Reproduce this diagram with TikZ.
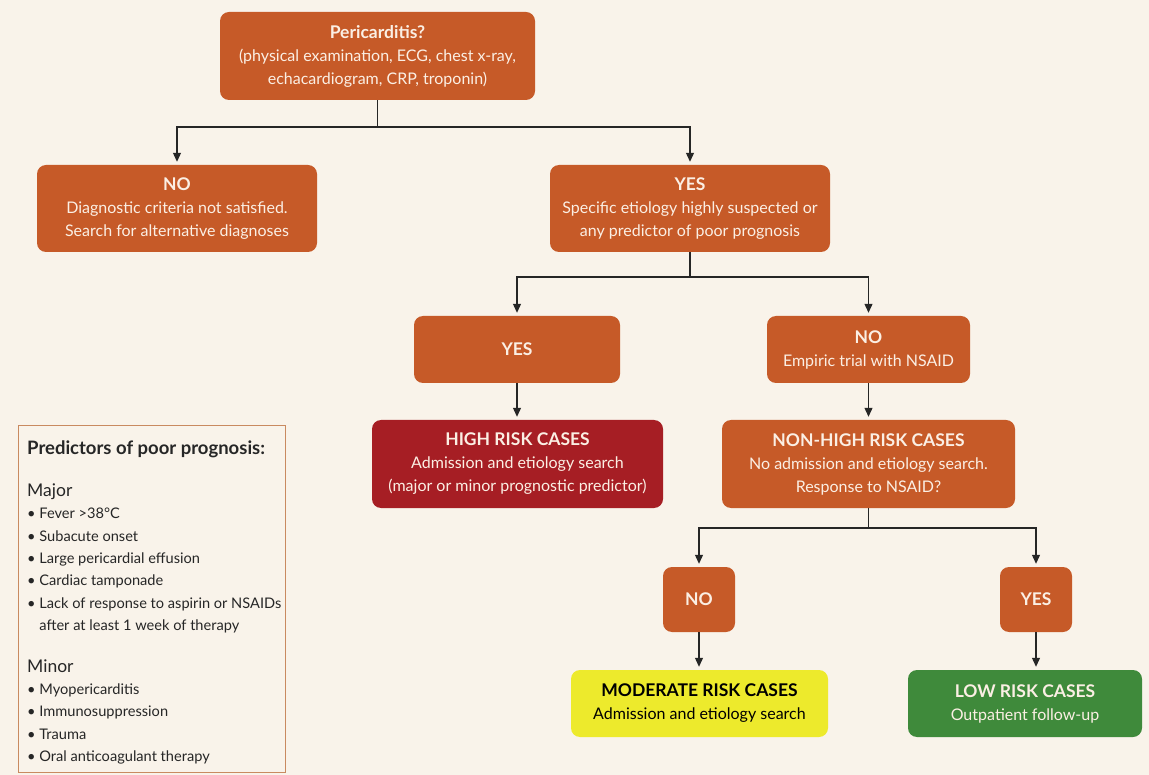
\documentclass[tikz,border=0pt]{standalone}
\usepackage{fontspec}
\setmainfont{Lato}
\usetikzlibrary{arrows.meta}
\definecolor{bg}{HTML}{F9F3EA}
\definecolor{org}{HTML}{C65A28}
\definecolor{hred}{HTML}{A61E24}
\definecolor{ylw}{HTML}{EDEA2C}
\definecolor{grn}{HTML}{3F8A3B}
\definecolor{txt}{HTML}{FBEFE4}
\definecolor{frame}{HTML}{C98A60}
\newcommand{\hd}[1]{{\fontsize{17.5}{23}\selectfont\textbf{#1}}}
\begin{document}
\begin{tikzpicture}[x=1pt,y=-1pt,
 box/.style={rounded corners=9pt, fill=org, text=txt, align=center, inner sep=0pt, font=\fontsize{16}{23}\selectfont},
 arr/.style={-{Triangle[width=8pt,length=9pt]}, line width=1.1pt, draw=black!85, shorten >=3pt},
 ln/.style={line width=1.1pt, draw=black!85}]
\fill[bg] (0,0) rectangle (1149,775);
\useasboundingbox (0,0) rectangle (1149,775);

\node[box, minimum width=315pt, minimum height=88pt] (top) at (377.5,56) {\hd{Pericarditis?}\\(physical examination, ECG, chest x-ray,\\echacardiogram, CRP, troponin)};
\node[box, minimum width=280pt, minimum height=87pt] (no1) at (177,208.5) {\hd{NO}\\Diagnostic criteria not satisfied.\\Search for alternative diagnoses};
\node[box, minimum width=280pt, minimum height=87pt] (yes1) at (690,208.5) {\hd{YES}\\Specific etiology highly suspected or\\any predictor of poor prognosis};
\node[box, minimum width=206pt, minimum height=67pt] (yes2) at (517,349.5) {\hd{YES}};
\node[box, minimum width=203pt, minimum height=67pt] (no2) at (868.5,349.5) {\hd{NO}\\Empiric trial with NSAID};
\node[box, fill=hred, minimum width=291pt, minimum height=88pt] (high) at (517.5,464) {\hd{HIGH RISK CASES}\\Admission and etiology search\\(major or minor prognostic predictor)};
\node[box, minimum width=293pt, minimum height=88pt] (nonhigh) at (868.5,464) {\hd{NON-HIGH RISK CASES}\\No admission and etiology search.\\Response to NSAID?};
\node[box, minimum width=72pt, minimum height=65pt] (no3) at (699,599.5) {\hd{NO}};
\node[box, minimum width=72pt, minimum height=65pt] (yes3) at (1036,599.5) {\hd{YES}};
\node[box, fill=ylw, text=black, minimum width=257pt, minimum height=67pt] (mod) at (699.5,703.5) {\hd{MODERATE RISK CASES}\\Admission and etiology search};
\node[box, fill=grn, minimum width=234pt, minimum height=67pt] (low) at (1025,703.5) {\hd{LOW RISK CASES}\\Outpatient follow-up};

\coordinate (j1) at (377.5,127);
\draw[ln] (top.south) -- (j1);
\draw[arr] (j1) -| (no1.north);
\draw[arr] (j1) -| (yes1.north);
\coordinate (j2) at (690,277);
\draw[ln] (yes1.south) -- (j2);
\draw[arr] (j2) -| (yes2.north);
\draw[arr] (j2) -| (no2.north);
\draw[arr] (yes2.south) -- (yes2.south |- high.north);
\draw[arr] (no2.south) -- (no2.south |- nonhigh.north);
\coordinate (j3) at (868.5,528);
\draw[ln] (nonhigh.south) -- (j3);
\draw[arr] (j3) -| (no3.north);
\draw[arr] (j3) -| (yes3.north);
\draw[arr] (no3.south) -- (no3.south |- mod.north);
\draw[arr] (yes3.south) -- (yes3.south |- low.north);

\node[draw=frame, line width=1.2pt, fill=bg, minimum width=267pt, minimum height=347pt, anchor=north west, inner sep=0pt] (pred) at (18,425) {};
\node[anchor=north west, align=left, inner sep=0pt, text=black!85, font=\fontsize{14.6}{22.4}\selectfont] (predtext) at (27,441) {%
{\fontsize{18.5}{22}\selectfont\textbf{Predictors of poor prognosis:}}\\[19pt]
{\fontsize{17.5}{22}\selectfont Major}\\
• Fever >38°C\\
• Subacute onset\\
• Large pericardial effusion\\
• Cardiac tamponade\\
• Lack of response to aspirin or NSAIDs\\
\phantom{• }after at least 1 week of therapy\\[19pt]
{\fontsize{17.5}{22}\selectfont Minor}\\
• Myopericarditis\\
• Immunosuppression\\
• Trauma\\
• Oral anticoagulant therapy};
\end{tikzpicture}
\end{document}
